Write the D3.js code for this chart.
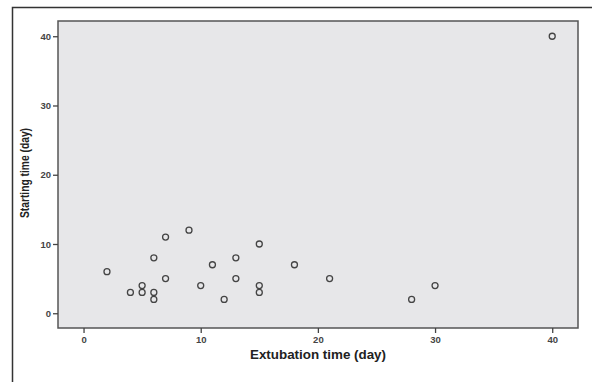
<!DOCTYPE html>
<html>
<head>
<meta charset="utf-8">
<script src="https://cdn.jsdelivr.net/npm/d3@7"></script>
<style>
  body { margin: 0; background: #fff; }
  svg { display: block; }
</style>
</head>
<body>
<div class="chart"></div>
<script>
var w = 592;
var h = 382;

// extubation time (x) vs starting time (y), in days
var extubationDays = [2, 4, 5, 5, 6, 6, 6, 7, 7, 9, 10, 11, 12, 13, 13, 15, 15, 15, 18, 21, 28, 30, 40];
var startingDays   = [6, 3, 4, 3, 8, 3, 2, 11, 5, 12, 4, 7, 2, 8, 5, 10, 4, 3, 7, 5, 2, 4, 40];
var xTicks = [0, 10, 20, 30, 40];
var yTicks = [0, 10, 20, 30, 40];

var points = extubationDays.map(function (d, i) {
  return { x: d, y: startingDays[i] };
});

var plotLeft = 58, plotRight = 578, plotTop = 21, plotBottom = 328;

var svg = d3.select(".chart")
  .append("svg")
  .attr("width", w)
  .attr("height", h);

// outer frame (only top and left edges show)
svg.append("path")
  .attr("d", "M12.5," + h + "V7.5H" + w)
  .attr("fill", "none")
  .attr("stroke", "#333")
  .attr("stroke-width", 1.5);

var xScale = d3.scaleLinear()
  .domain([-2.18, 42.2])
  .range([plotLeft, plotRight]);

var yScale = d3.scaleLinear()
  .domain([-2.13, 42.2])
  .range([plotBottom, plotTop]);

// plot background
svg.append("rect")
  .attr("x", plotLeft)
  .attr("y", plotTop)
  .attr("width", plotRight - plotLeft)
  .attr("height", plotBottom - plotTop)
  .attr("fill", "#e7e7e9")
  .attr("stroke", "#555")
  .attr("stroke-width", 1.5);

var xAxis = d3.axisBottom(xScale)
  .tickValues(xTicks)
  .tickSize(5)
  .tickSizeOuter(0)
  .tickPadding(3);

var yAxis = d3.axisLeft(yScale)
  .tickValues(yTicks)
  .tickSize(5)
  .tickSizeOuter(0)
  .tickPadding(2);

var gx = svg.append("g")
  .attr("transform", "translate(0," + plotBottom + ")")
  .call(xAxis);

var gy = svg.append("g")
  .attr("transform", "translate(" + plotLeft + ",0)")
  .call(yAxis);

[gx, gy].forEach(function (g) {
  g.select(".domain").remove();
  g.selectAll(".tick line").attr("stroke", "#444").attr("stroke-width", 1.3);
  g.selectAll(".tick text")
    .attr("fill", "#444")
    .attr("font-family", "'Liberation Sans', Arial, sans-serif")
    .attr("font-weight", "bold")
    .attr("font-size", 9.5);
});

// markers
svg.append("g")
  .selectAll("circle")
  .data(points)
  .enter()
  .append("circle")
  .attr("cx", function (d) { return xScale(d.x); })
  .attr("cy", function (d) { return yScale(d.y); })
  .attr("r", 3)
  .attr("fill", "none")
  .attr("stroke", "#444")
  .attr("stroke-width", 1.3);

// axis titles
svg.append("text")
  .text("Extubation time (day)")
  .attr("x", 318)
  .attr("y", 359)
  .attr("text-anchor", "middle")
  .attr("font-family", "'Liberation Sans', Arial, sans-serif")
  .attr("font-weight", "bold")
  .attr("font-size", 12.5)
  .attr("textLength", 136)
  .attr("lengthAdjust", "spacingAndGlyphs")
  .attr("fill", "#222");

svg.append("text")
  .text("Starting time (day)")
  .attr("transform", "translate(29,173) rotate(-90)")
  .attr("text-anchor", "middle")
  .attr("font-family", "'Liberation Sans', Arial, sans-serif")
  .attr("font-weight", "bold")
  .attr("font-size", 13.5)
  .attr("textLength", 90)
  .attr("lengthAdjust", "spacingAndGlyphs")
  .attr("fill", "#222");
</script>
</body>
</html>
